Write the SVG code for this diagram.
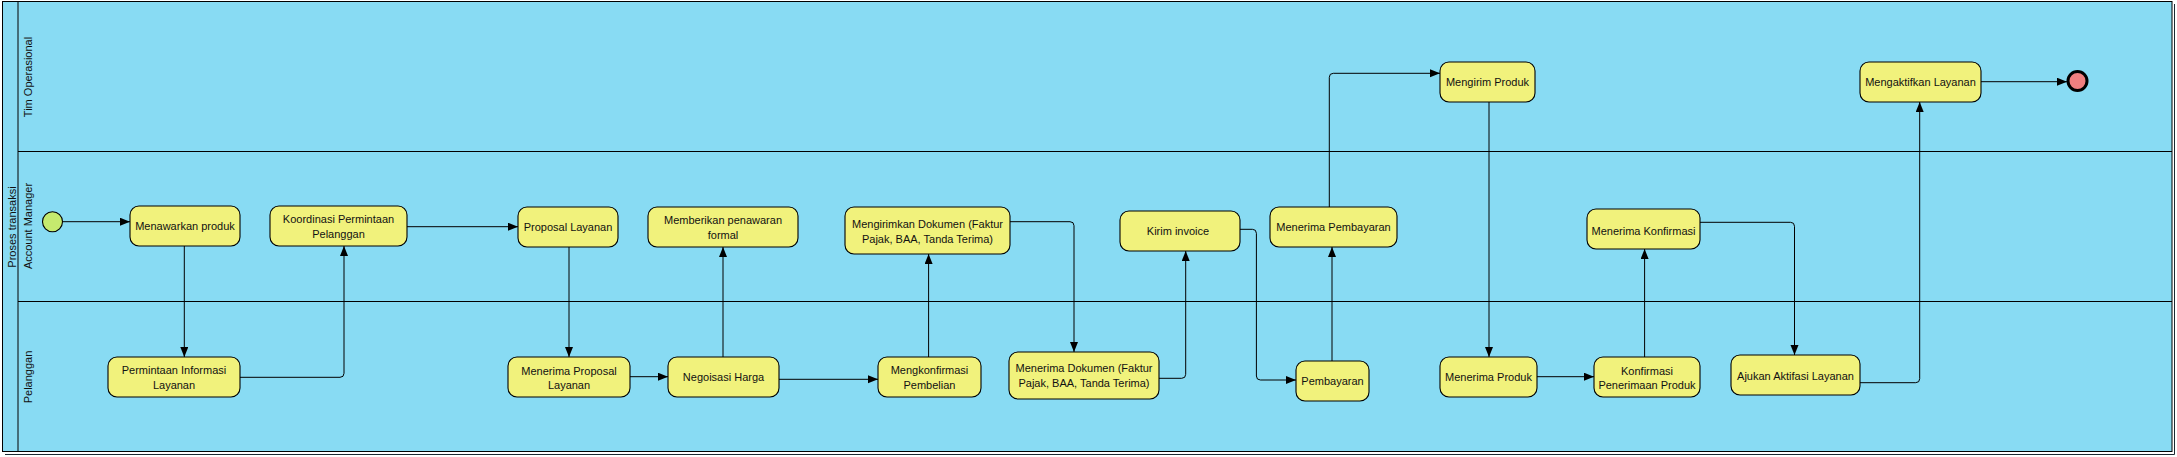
<svg xmlns="http://www.w3.org/2000/svg" width="2177" height="457" viewBox="0 0 2177 457">
<style>
.pool{fill:#88dbf3;stroke:#000;stroke-width:1}
.lane{stroke:#000;stroke-width:1;fill:none}
.shadow{stroke:#1a2a33;stroke-width:1;fill:none}
.task{fill:#f1f27c;stroke:#000;stroke-width:1.1}
.t{font-family:"Liberation Sans",Arial,sans-serif;font-size:11px;fill:#111;text-anchor:middle}
.lbl{font-family:"Liberation Sans",Arial,sans-serif;font-size:11px;fill:#111;text-anchor:middle}
.c{fill:none;stroke:#000;stroke-width:1;marker-end:url(#ah)}
</style>
<defs>
<marker id="ah" markerUnits="userSpaceOnUse" markerWidth="11" markerHeight="9" refX="10" refY="4" orient="auto">
<path d="M0,0 L10,4 L0,8 z" fill="#000"/>
</marker>
</defs>
<rect x="0" y="0" width="2177" height="457" fill="#fff"/>
<g id="pool">
<rect class="pool" x="2.5" y="1.5" width="2169.5" height="450"/>
<path class="shadow" d="M2174.5,4 V454.5 H5"/>
<line class="lane" x1="18" y1="1.5" x2="18" y2="451.5"/>
<line class="lane" x1="18" y1="151.5" x2="2172" y2="151.5"/>
<line class="lane" x1="18" y1="301.5" x2="2172" y2="301.5"/>
<text class="lbl" transform="translate(16,227) rotate(-90)">Proses transaksi</text>
<text class="lbl" transform="translate(31.5,77) rotate(-90)">Tim Operasional</text>
<text class="lbl" transform="translate(31.5,226) rotate(-90)">Account Manager</text>
<text class="lbl" transform="translate(31.5,377) rotate(-90)">Pelanggan</text>
</g>
<g id="connectors">
<path class="c" d="M62.5,221.7 H130"/>
<path class="c" d="M184.3,246 V357"/>
<path class="c" d="M240,377.3 H340 Q344,377.3 344,373.3 V246"/>
<path class="c" d="M407,226.7 H518"/>
<path class="c" d="M569,247 V357"/>
<path class="c" d="M630,376.7 H668"/>
<path class="c" d="M723,357 V247"/>
<path class="c" d="M779,379.3 H878"/>
<path class="c" d="M928.6,357 V254"/>
<path class="c" d="M1010,221.7 H1070 Q1074,221.7 1074,225.7 V352"/>
<path class="c" d="M1159,378.3 H1181.7 Q1185.7,378.3 1185.7,374.3 V251"/>
<path class="c" d="M1237,229.3 H1252.4 Q1256.4,229.3 1256.4,233.3 V376 Q1256.4,380 1260.4,380 H1296"/>
<path class="c" d="M1332,361 V247"/>
<path class="c" d="M1329.3,207 V77.3 Q1329.3,73.3 1333.3,73.3 H1440"/>
<path class="c" d="M1489,102 V357"/>
<path class="c" d="M1537,376.7 H1594"/>
<path class="c" d="M1644.6,357 V249"/>
<path class="c" d="M1700,222.3 H1790.5 Q1794.5,222.3 1794.5,226.3 V355"/>
<path class="c" d="M1860,382.7 H1915.7 Q1919.7,382.7 1919.7,378.7 V102"/>
<path class="c" d="M1981,81.7 H2067"/>
</g>
<g id="start"><circle cx="52.5" cy="221.7" r="10" fill="#c5ea6e" stroke="#000" stroke-width="1.1"/></g>
<g id="end"><circle cx="2077.5" cy="81" r="9.5" fill="#f07f7f" stroke="#000" stroke-width="3"/></g>
<g id="n-menawarkan"><rect class="task" x="130" y="206" width="110" height="40" rx="9"/><text class="t" x="185" y="230">Menawarkan produk</text></g>
<g id="n-koordinasi"><rect class="task" x="270" y="206" width="137" height="40" rx="9"/><text class="t" x="338.5" y="223">Koordinasi Permintaan</text><text class="t" x="338.5" y="238">Pelanggan</text></g>
<g id="n-proposal"><rect class="task" x="518" y="207" width="100" height="40" rx="9"/><text class="t" x="568" y="231">Proposal Layanan</text></g>
<g id="n-memberikan"><rect class="task" x="648" y="207" width="150" height="40" rx="9"/><text class="t" x="723" y="224">Memberikan penawaran</text><text class="t" x="723" y="239">formal</text></g>
<g id="n-mengirimkan"><rect class="task" x="845" y="207" width="165" height="47" rx="9"/><text class="t" x="927.5" y="228.3">Mengirimkan Dokumen (Faktur</text><text class="t" x="927.5" y="243.3">Pajak, BAA, Tanda Terima)</text></g>
<g id="n-kiriminvoice"><rect class="task" x="1120" y="211" width="120" height="40" rx="9"/><text class="t" x="1178" y="235">Kirim invoice</text></g>
<g id="n-menerimapembayaran"><rect class="task" x="1270" y="207" width="127" height="40" rx="9"/><text class="t" x="1333.5" y="231.3">Menerima Pembayaran</text></g>
<g id="n-menerimakonfirmasi"><rect class="task" x="1587" y="209" width="113" height="40" rx="9"/><text class="t" x="1643.5" y="234.7">Menerima Konfirmasi</text></g>
<g id="n-mengirimproduk"><rect class="task" x="1440" y="62" width="95" height="40" rx="9"/><text class="t" x="1487.5" y="86.3">Mengirim Produk</text></g>
<g id="n-mengaktifkan"><rect class="task" x="1860" y="62" width="121" height="40" rx="9"/><text class="t" x="1920.5" y="86.3">Mengaktifkan Layanan</text></g>
<g id="n-permintaan"><rect class="task" x="108" y="357" width="132" height="40" rx="9"/><text class="t" x="174" y="374">Permintaan Informasi</text><text class="t" x="174" y="389">Layanan</text></g>
<g id="n-menerimaproposal"><rect class="task" x="508" y="357" width="122" height="40" rx="9"/><text class="t" x="569" y="374.7">Menerima Proposal</text><text class="t" x="569" y="389">Layanan</text></g>
<g id="n-negoisasi"><rect class="task" x="668" y="357" width="111" height="40" rx="9"/><text class="t" x="723.5" y="381">Negoisasi Harga</text></g>
<g id="n-mengkonfirmasi"><rect class="task" x="878" y="357" width="103" height="40" rx="9"/><text class="t" x="929.5" y="374">Mengkonfirmasi</text><text class="t" x="929.5" y="389">Pembelian</text></g>
<g id="n-menerimadokumen"><rect class="task" x="1009" y="352" width="150" height="47" rx="9"/><text class="t" x="1084" y="372.3">Menerima Dokumen (Faktur</text><text class="t" x="1084" y="387.3">Pajak, BAA, Tanda Terima)</text></g>
<g id="n-pembayaran"><rect class="task" x="1296" y="361" width="73" height="40" rx="9"/><text class="t" x="1332.5" y="385">Pembayaran</text></g>
<g id="n-menerimaproduk"><rect class="task" x="1440" y="357" width="97" height="40" rx="9"/><text class="t" x="1488.5" y="381.3">Menerima Produk</text></g>
<g id="n-konfirmasi"><rect class="task" x="1594" y="357" width="106" height="40" rx="9"/><text class="t" x="1647" y="374.7">Konfirmasi</text><text class="t" x="1647" y="389">Penerimaan Produk</text></g>
<g id="n-ajukan"><rect class="task" x="1731" y="355" width="129" height="40" rx="9"/><text class="t" x="1795.5" y="380">Ajukan Aktifasi Layanan</text></g>
</svg>
